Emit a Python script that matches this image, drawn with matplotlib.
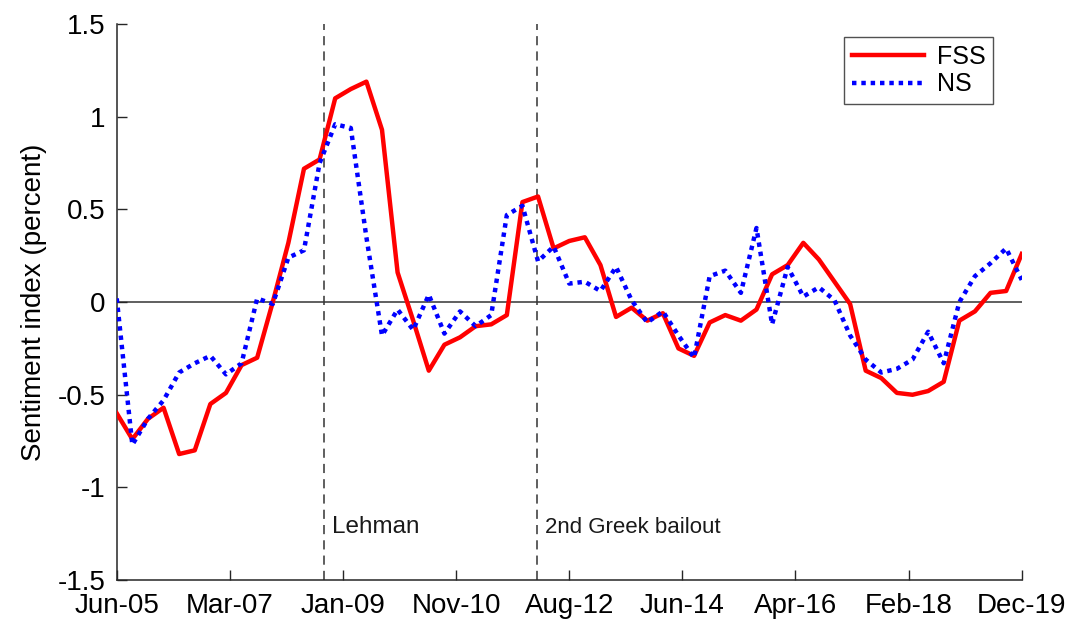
import numpy as np
import matplotlib
matplotlib.use('Agg')
from matplotlib import pyplot as plt

plt.rcParams['font.family'] = ['Liberation Sans', 'DejaVu Sans']

# quarterly observations, Jun-05 .. Dec-19 (months since Jun-05)
months = np.arange(0, 175, 3)

fss = [-0.60, -0.74, -0.63, -0.57, -0.82, -0.80, -0.55, -0.49, -0.34, -0.30,
       0.00, 0.32, 0.72, 0.77, 1.10, 1.15, 1.19, 0.93, 0.16, -0.10,
       -0.37, -0.23, -0.19, -0.13, -0.12, -0.07, 0.54, 0.57, 0.29, 0.33,
       0.35, 0.20, -0.08, -0.03, -0.10, -0.06, -0.25, -0.29, -0.11, -0.07,
       -0.10, -0.04, 0.15, 0.20, 0.32, 0.23, 0.11, -0.01, -0.37, -0.41,
       -0.49, -0.50, -0.48, -0.43, -0.10, -0.05, 0.05, 0.06, 0.26]

ns = [0.02, -0.77, -0.63, -0.53, -0.38, -0.33, -0.29, -0.39, -0.33, 0.02,
      -0.01, 0.24, 0.28, 0.75, 0.96, 0.94, 0.35, -0.18, -0.04, -0.15,
      0.04, -0.17, -0.05, -0.13, -0.07, 0.47, 0.52, 0.22, 0.30, 0.10,
      0.11, 0.06, 0.19, 0.01, -0.11, -0.05, -0.18, -0.30, 0.14, 0.17,
      0.05, 0.40, -0.12, 0.19, 0.03, 0.08, 0.01, -0.18, -0.31, -0.38,
      -0.36, -0.31, -0.16, -0.33, 0.00, 0.14, 0.21, 0.29, 0.12]

tick_labels = ['Jun-05', 'Mar-07', 'Jan-09', 'Nov-10', 'Aug-12',
               'Jun-14', 'Apr-16', 'Feb-18', 'Dec-19']

event_months = [39.8, 80.8]
event_names = ['Lehman', '2nd Greek bailout']

fig = plt.figure(figsize=(10.71, 6.21), dpi=100)
ax = fig.add_axes([0.109, 0.066, 0.845, 0.895])

ax.axhline(0, color='#444444', lw=1.2, zorder=1)
for m, name, fs in zip(event_months, event_names, [17.5, 16]):
    ax.axvline(m, color='#333333', lw=1.1, linestyle=(0, (6, 4)), zorder=1)
    ax.text(m + 1.6, -1.215, name, fontsize=fs, color='#1a1a1a', va='center', ha='left')

ax.plot(months, fss, color='#ff0000', lw=3.2, label='FSS', zorder=3)
ax.plot(months, ns, color='#0000ff', lw=3.2, linestyle=(0, (1, 1.1)), label='NS', zorder=4)

ax.set_xlim(0, 174)
ax.set_ylim(-1.5, 1.5)
ax.set_xticks(np.linspace(0, 174, 9))
ax.set_xticklabels(tick_labels)
ax.set_yticks([-1.5, -1, -0.5, 0, 0.5, 1, 1.5])
ax.set_yticklabels(['-1.5', '-1', '-0.5', '0', '0.5', '1', '1.5'])
ax.tick_params(direction='in', length=7, width=1, labelsize=20, colors='#262626', labelcolor='black')
ax.tick_params(axis='x', pad=9)
ax.tick_params(axis='y', pad=8)
ax.set_ylabel('Sentiment index (percent)', fontsize=20, labelpad=8)

for side in ['top', 'right']:
    ax.spines[side].set_visible(False)
for side in ['left', 'bottom']:
    ax.spines[side].set_color('#262626')
    ax.spines[side].set_linewidth(1.1)

leg = ax.legend(loc='upper right', bbox_to_anchor=(0.968, 0.977), fontsize=18, frameon=True,
                fancybox=False, edgecolor='#262626', handlelength=2.9, borderpad=0.3,
                labelspacing=0.15, handletextpad=0.5, borderaxespad=0)
leg.get_frame().set_linewidth(1.0)

fig.savefig('out.png', dpi=100)
